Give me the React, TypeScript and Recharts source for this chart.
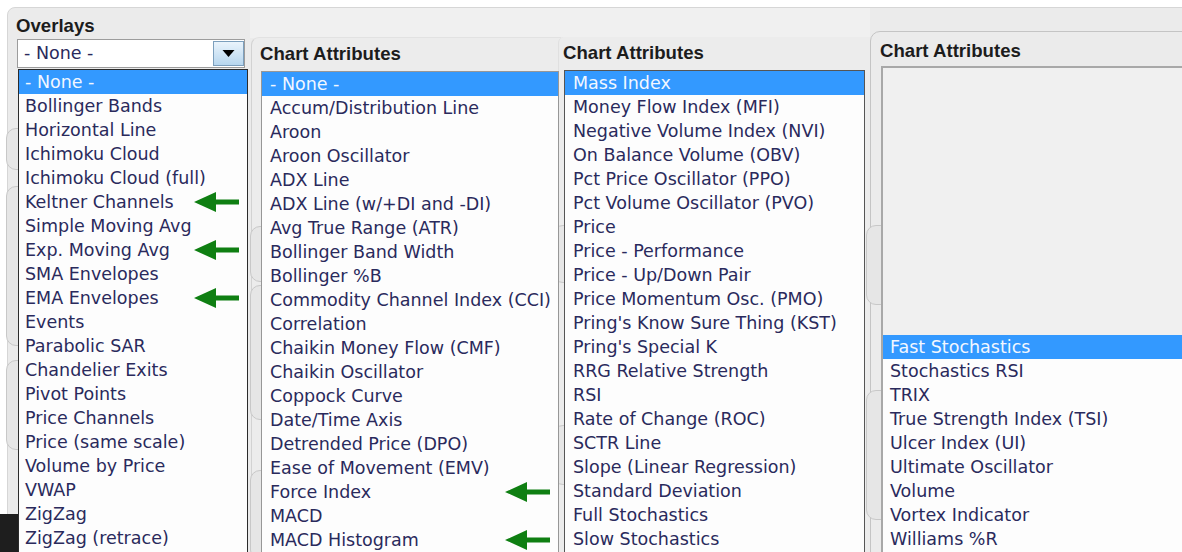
import React from 'react'
import { BarChart, Bar, XAxis, YAxis } from 'recharts'

// list contents, read top to bottom
const overlayItems = [
	'- None -',
	'Bollinger Bands',
	'Horizontal Line',
	'Ichimoku Cloud',
	'Ichimoku Cloud (full)',
	'Keltner Channels',
	'Simple Moving Avg',
	'Exp. Moving Avg',
	'SMA Envelopes',
	'EMA Envelopes',
	'Events',
	'Parabolic SAR',
	'Chandelier Exits',
	'Pivot Points',
	'Price Channels',
	'Price (same scale)',
	'Volume by Price',
	'VWAP',
	'ZigZag',
	'ZigZag (retrace)',
]
const overlaySelected = '- None -'
const overlayMarked = ['Keltner Channels', 'Exp. Moving Avg', 'EMA Envelopes']

const attrItemsA = [
	'- None -',
	'Accum/Distribution Line',
	'Aroon',
	'Aroon Oscillator',
	'ADX Line',
	'ADX Line (w/+DI and -DI)',
	'Avg True Range (ATR)',
	'Bollinger Band Width',
	'Bollinger %B',
	'Commodity Channel Index (CCI)',
	'Correlation',
	'Chaikin Money Flow (CMF)',
	'Chaikin Oscillator',
	'Coppock Curve',
	'Date/Time Axis',
	'Detrended Price (DPO)',
	'Ease of Movement (EMV)',
	'Force Index',
	'MACD',
	'MACD Histogram',
]
const attrSelectedA = '- None -'
const attrMarkedA = ['Force Index', 'MACD Histogram']

const attrItemsB = [
	'Mass Index',
	'Money Flow Index (MFI)',
	'Negative Volume Index (NVI)',
	'On Balance Volume (OBV)',
	'Pct Price Oscillator (PPO)',
	'Pct Volume Oscillator (PVO)',
	'Price',
	'Price - Performance',
	'Price - Up/Down Pair',
	'Price Momentum Osc. (PMO)',
	"Pring's Know Sure Thing (KST)",
	"Pring's Special K",
	'RRG Relative Strength',
	'RSI',
	'Rate of Change (ROC)',
	'SCTR Line',
	'Slope (Linear Regression)',
	'Standard Deviation',
	'Full Stochastics',
	'Slow Stochastics',
]
const attrSelectedB = 'Mass Index'
const attrMarkedB: string[] = []

const attrItemsC = [
	'Fast Stochastics',
	'Stochastics RSI',
	'TRIX',
	'True Strength Index (TSI)',
	'Ulcer Index (UI)',
	'Ultimate Oscillator',
	'Volume',
	'Vortex Indicator',
	'Williams %R',
]
const attrSelectedC = 'Fast Stochastics'
const attrMarkedC: string[] = []

const ROW = 24
const ITEM_FONT = "'DejaVu Sans', Verdana, sans-serif"
const HEAD_FONT = "'Liberation Sans', Arial, sans-serif"

type ListProps = {
	items: string[]
	selected: string
	marked: string[]
	width: number
	pad: number
}

// green arrow drawn at the right end of a full-row bar
const ArrowShape = (p: any) => {
	if (!p.width || p.width <= 0) return <g />
	const end = p.x + p.width - 8
	const tip = p.x + p.width - 53
	const cy = p.y + p.height / 2
	const hx = tip + 22
	const d = `M${tip},${cy} L${hx},${cy - 10} L${hx},${cy - 2.5} L${end},${cy - 2.5} L${end},${cy + 2.5} L${hx},${cy + 2.5} L${hx},${cy + 10} Z`
	return <path d={d} fill='#0f7f12' />
}

const ListChart = ({ items, selected, marked, width, pad }: ListProps) => {
	const rows = items.map((name) => ({
		name,
		sel: name === selected ? 1 : 0,
		mark: marked.includes(name) ? 1 : 0,
	}))

	const tick = (p: any) => (
		<text
			x={pad}
			y={p.y}
			dy='0.36em'
			textAnchor='start'
			fontFamily={ITEM_FONT}
			fontSize={17.5}
			fill={p.payload.value === selected ? '#f2f7ff' : '#2a2a5c'}>
			{p.payload.value}
		</text>
	)

	return (
		<BarChart
			width={width}
			height={items.length * ROW}
			data={rows}
			layout='vertical'
			barCategoryGap={0}
			margin={{ top: 0, right: 0, left: 0, bottom: 0 }}>
			<XAxis
				type='number'
				domain={[0, 1]}
				hide
			/>
			<Bar
				dataKey='sel'
				stackId='row'
				fill='#3399ff'
				isAnimationActive={false}
			/>
			<Bar
				dataKey='mark'
				stackId='row'
				fill='#0f7f12'
				shape={ArrowShape}
				isAnimationActive={false}
			/>
			<YAxis
				type='category'
				dataKey='name'
				mirror
				interval={0}
				axisLine={false}
				tickLine={false}
				tickSize={0}
				tick={tick}
			/>
		</BarChart>
	)
}

const abs = (s: React.CSSProperties): React.CSSProperties => ({ position: 'absolute', boxSizing: 'border-box', ...s })

const Heading = ({ text, left, top }: { text: string; left: number; top: number }) => (
	<div
		style={abs({
			left,
			top,
			fontFamily: HEAD_FONT,
			fontWeight: 'bold',
			fontSize: 18.6,
			lineHeight: '18.6px',
			color: '#1c1c1c',
			whiteSpace: 'nowrap',
		})}>
		{text}
	</div>
)

const App = () => {
	return (
		<div
			style={{
				position: 'absolute',
				left: 0,
				top: 0,
				width: 1182,
				height: 552,
				overflow: 'hidden',
				background: '#ffffff',
			}}>
			{/* panel backgrounds */}
			<div style={abs({ left: 7, top: 7, width: 1200, height: 560, background: '#ebebeb', border: '1px solid #d6d6d6', borderTopLeftRadius: 8 })} />
			<div style={abs({ left: 250, top: 8, width: 620, height: 30, background: '#f0f0f0' })} />
			<div style={abs({ left: 251, top: 37, width: 310, height: 530, background: '#ececec', borderLeft: '1px solid #d2d2d2', borderTop: '1px solid #e2e2e2', borderTopLeftRadius: 8 })} />
			<div style={abs({ left: 558, top: 37, width: 312, height: 530, background: '#ececec', borderLeft: '1px solid #e0e0e0', borderTopLeftRadius: 6 })} />
			<div style={abs({ left: 870, top: 31, width: 330, height: 540, background: '#ebebeb', border: '1px solid #c4c4c4', borderTopLeftRadius: 10 })} />

			{/* hidden panels peeking between the lists */}
			<div style={abs({ left: 6, top: 128, width: 40, height: 42, border: '1px solid #c8c8c8', borderRadius: 10, background: '#e6e6e6' })} />
			<div style={abs({ left: 6, top: 186, width: 40, height: 160, border: '1px solid #c8c8c8', borderRadius: 10, background: '#e6e6e6' })} />
			<div style={abs({ left: 6, top: 360, width: 40, height: 90, border: '1px solid #c8c8c8', borderRadius: 10, background: '#e6e6e6' })} />
			<div style={abs({ left: 250, top: 226, width: 40, height: 56, border: '1px solid #c8c8c8', borderRadius: 10, background: '#e6e6e6' })} />
			<div style={abs({ left: 250, top: 285, width: 40, height: 135, border: '1px solid #c8c8c8', borderRadius: 10, background: '#e6e6e6' })} />
			<div style={abs({ left: 250, top: 470, width: 40, height: 90, border: '1px solid #c8c8c8', borderRadius: 10, background: '#e6e6e6' })} />
			<div style={abs({ left: 553, top: 225, width: 40, height: 58, border: '1px solid #c8c8c8', borderRadius: 10, background: '#e6e6e6' })} />
			<div style={abs({ left: 553, top: 425, width: 40, height: 60, border: '1px solid #c8c8c8', borderRadius: 10, background: '#e6e6e6' })} />
			<div style={abs({ left: 866, top: 225, width: 40, height: 80, border: '1px solid #c8c8c8', borderRadius: 10, background: '#e6e6e6' })} />
			<div style={abs({ left: 866, top: 390, width: 40, height: 130, border: '1px solid #c8c8c8', borderRadius: 10, background: '#e6e6e6' })} />
			<div style={abs({ left: 0, top: 514, width: 18, height: 40, background: '#1e1e1e' })} />

			{/* headings */}
			<Heading text='Overlays' left={16} top={17} />
			<Heading text='Chart Attributes' left={260} top={45} />
			<Heading text='Chart Attributes' left={563} top={44} />
			<Heading text='Chart Attributes' left={880} top={42} />

			{/* overlay drop-down */}
			<div style={abs({ left: 17, top: 39, width: 228, height: 29, background: '#ffffff', border: '1px solid #9c9c9c' })} />
			<div
				style={abs({
					left: 24,
					top: 44,
					fontFamily: ITEM_FONT,
					fontSize: 17.5,
					lineHeight: '18px',
					color: '#2a2a5c',
				})}>
				- None -
			</div>
			<div style={abs({ left: 213, top: 41, width: 31, height: 25, background: 'linear-gradient(#eaf4fc, #b7d6ee)', border: '1px solid #7c9fbd' })} />
			<svg style={abs({ left: 213, top: 41 })} width={31} height={25}>
				<path d='M9.5,9 L21.5,9 L15.5,16 Z' fill='#000' />
			</svg>

			{/* list boxes */}
			<div style={abs({ left: 18, top: 69, width: 230, height: 500, background: '#fdfdfd', border: '1px solid #2b2b2b' })}>
				<ListChart items={overlayItems} selected={overlaySelected} marked={overlayMarked} width={228} pad={6} />
			</div>
			<div style={abs({ left: 261, top: 71, width: 298, height: 500, background: '#fdfdfd', border: '1px solid #979797' })}>
				<ListChart items={attrItemsA} selected={attrSelectedA} marked={attrMarkedA} width={296} pad={8} />
			</div>
			<div style={abs({ left: 564, top: 70, width: 301, height: 500, background: '#fdfdfd', border: '1px solid #555555' })}>
				<ListChart items={attrItemsB} selected={attrSelectedB} marked={attrMarkedB} width={299} pad={8} />
			</div>
			<div style={abs({ left: 881, top: 66, width: 320, height: 500, background: '#f0f0f0', borderTop: '2px solid #a8a8a8', borderLeft: '2px solid #a8a8a8' })}>
				<div style={abs({ left: 0, top: 267, width: 299, height: 240, background: '#fdfdfd' })}>
					<ListChart items={attrItemsC} selected={attrSelectedC} marked={attrMarkedC} width={299} pad={7} />
				</div>
			</div>
		</div>
	)
}

export default App
